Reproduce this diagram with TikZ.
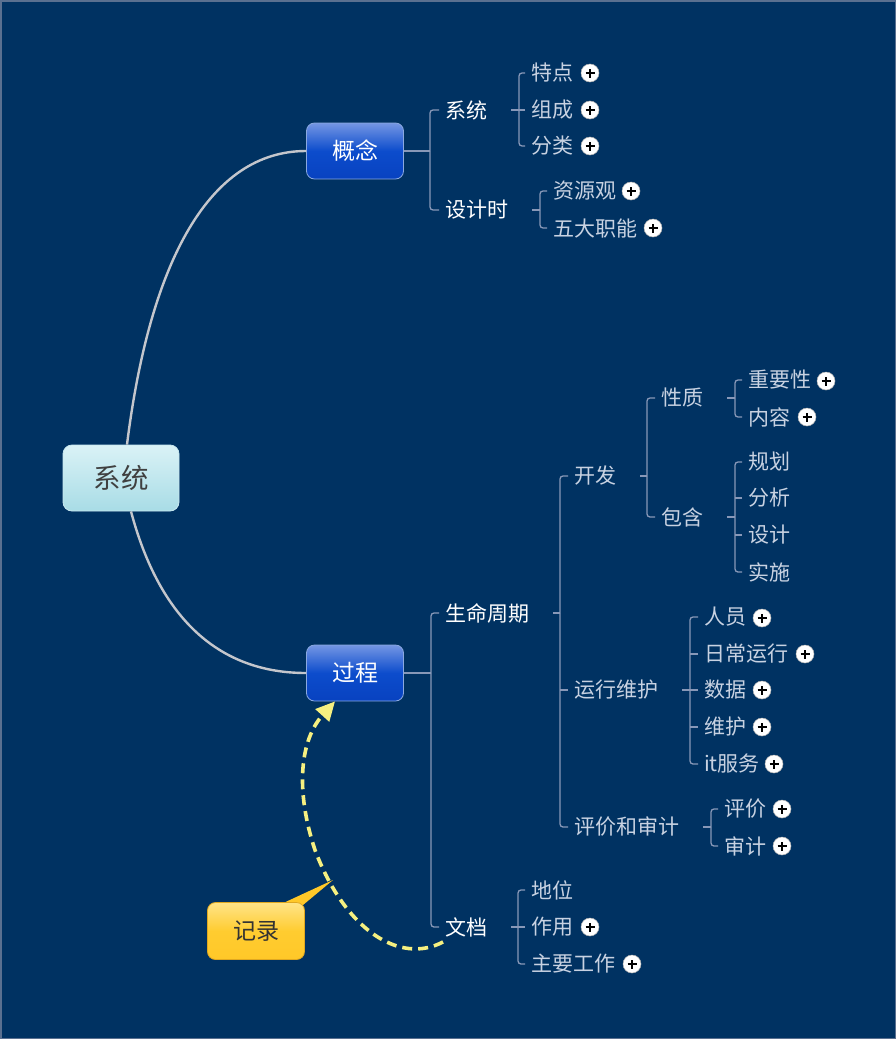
\documentclass[tikz,border=0pt]{standalone}
\usepackage{fontspec}
\setmainfont{Noto Sans CJK SC}
\usetikzlibrary{arrows.meta}
\definecolor{bg}{HTML}{003262}
\definecolor{frame}{HTML}{5A7090}
\definecolor{curvec}{HTML}{C4C6CC}
\definecolor{brc}{HTML}{8898B8}
\definecolor{leafc}{HTML}{C8D2E2}
\definecolor{roottop}{HTML}{DAF2F6}
\definecolor{rootbot}{HTML}{A8DCE6}
\definecolor{rootline}{HTML}{C8E8F0}
\definecolor{bluetop}{HTML}{7496E4}
\definecolor{bluemid}{HTML}{0C4CCC}
\definecolor{bluebot}{HTML}{0842C0}
\definecolor{blueline}{HTML}{8AA8E0}
\definecolor{yeltop}{HTML}{FFE488}
\definecolor{yelmid}{HTML}{FFCC30}
\definecolor{yelbot}{HTML}{FFC828}
\definecolor{yelline}{HTML}{E0A820}
\definecolor{dashc}{HTML}{F6F080}
\begin{document}
\begin{tikzpicture}[x=1pt,y=-1pt,
  rootbox/.style={draw=rootline, line width=0.8pt, rounded corners=9pt,
    top color=roottop, bottom color=rootbot, minimum width=116pt, minimum height=66pt,
    text=black!75, font=\fontsize{27.5}{30}\selectfont},
  mainbox/.style={draw=blueline, line width=0.8pt, rounded corners=8pt,
    top color=bluetop, bottom color=bluebot, middle color=bluemid,
    minimum width=97pt, minimum height=56pt, text=white, font=\fontsize{23}{26}\selectfont},
  notebox/.style={draw=yelline, line width=0.8pt, rounded corners=8pt,
    top color=yeltop, bottom color=yelbot, middle color=yelmid,
    minimum width=97pt, minimum height=57pt, text=black!80, font=\fontsize{23}{26}\selectfont},
  sub/.style={anchor=west, inner xsep=0pt, inner ysep=2pt, text=white, font=\fontsize{21}{24}\selectfont},
  leaf/.style={sub, text=leafc},
  br/.style={draw=brc, line width=1.3pt, rounded corners=3pt},
  curve/.style={draw=curvec, line width=2.4pt},
  plusicon/.style={circle, fill=white, draw=black!30, line width=0.5pt, minimum size=18pt, inner sep=0pt,
    path picture={
      \draw[black, line width=1.2pt]
        ([xshift=-4.5pt]path picture bounding box.center) -- ([xshift=4.5pt]path picture bounding box.center)
        ([yshift=-4.5pt]path picture bounding box.center) -- ([yshift=4.5pt]path picture bounding box.center);}},
  dasharrow/.style={draw=dashc, line width=3.6pt, dash pattern=on 10pt off 6pt,
    -{Triangle[length=19pt,width=18pt,fill=dashc]}}
]
\useasboundingbox (0,0) rectangle (896,1039);
\fill[bg] (0,0) rectangle (896,1039);
\draw[frame, line width=1.5pt] (0.75,0.75) rectangle (895.25,1038.25);

% main nodes
\node[rootbox] (root) at (121,478) {系统};
\node[mainbox] (gn) at (355,151) {概念};
\node[mainbox] (gc) at (355,673) {过程};

% curves from root
\draw[curve] ([xshift=6pt]root.north) .. controls (150,260) and (210,151) .. (gn.west);
\draw[curve] ([xshift=10pt]root.south) .. controls (160,620) and (220,673) .. (gc.west);

% level 1
\node[sub] (xt) at (445,110) {系统};
\node[sub] (sjs) at (445,210) {设计时};
\node[sub] (smzq) at (445,613) {生命周期};
\node[sub] (wd) at (445,927) {文档};

% leaves under 概念
\node[leaf] (td) at (531,73) {特点};
\node[leaf] (zc) at (531,110) {组成};
\node[leaf] (fl) at (531,146) {分类};
\node[leaf] (zyg) at (553,191) {资源观};
\node[leaf] (wdzn) at (553,228) {五大职能};

% 生命周期
\node[leaf] (kf) at (574,476) {开发};
\node[leaf] (yxwh) at (574,690) {运行维护};
\node[leaf] (pjsj) at (574,827) {评价和审计};
\node[leaf] (xz) at (661,398) {性质};
\node[leaf] (bh) at (661,517) {包含};
\node[leaf] (zyx) at (748,380) {重要性};
\node[leaf] (nr) at (748,417) {内容};
\node[leaf] (gh) at (748,462) {规划};
\node[leaf] (fx) at (748,498) {分析};
\node[leaf] (sj) at (748,535) {设计};
\node[leaf] (ss) at (748,572) {实施};
\node[leaf] (ry) at (704,617) {人员};
\node[leaf] (rcyx) at (704,654) {日常运行};
\node[leaf] (sjv) at (704,690) {数据};
\node[leaf] (wh) at (704,727) {维护};
\node[leaf] (its) at (704,764) {it服务};
\node[leaf] (pj) at (724,809) {评价};
\node[leaf] (sjt) at (724,846) {审计};

% 文档
\node[leaf] (dw) at (531,890) {地位};
\node[leaf] (zy) at (531,927) {作用};
\node[leaf] (zygz) at (531,964) {主要工作};

% brackets
\coordinate (b1) at (430,151);
\draw[br] (gn.east) -- (b1);
\draw[br] ([xshift=-6pt]xt.west) -| (b1);
\draw[br] ([xshift=-6pt]sjs.west) -| (b1);

\coordinate (b2) at (519,110);
\draw[br] ([xshift=24pt]xt.east) -- (b2);
\draw[br] ([xshift=-6pt]td.west) -| (b2);
\draw[br] ([xshift=-6pt]fl.west) -| (b2);
\draw[br] ([xshift=-6pt]zc.west) -- (zc.west -| b2);

\coordinate (b3) at (540,210);
\draw[br] ([xshift=24pt]sjs.east) -- (b3);
\draw[br] ([xshift=-6pt]zyg.west) -| (b3);
\draw[br] ([xshift=-6pt]wdzn.west) -| (b3);

\coordinate (b4) at (431,673);
\draw[br] (gc.east) -- (b4);
\draw[br] ([xshift=-6pt]smzq.west) -| (b4);
\draw[br] ([xshift=-6pt]wd.west) -| (b4);

\coordinate (b5) at (560,613);
\draw[br] ([xshift=24pt]smzq.east) -- (b5);
\draw[br] ([xshift=-6pt]kf.west) -| (b5);
\draw[br] ([xshift=-6pt]pjsj.west) -| (b5);
\draw[br] ([xshift=-6pt]yxwh.west) -- (yxwh.west -| b5);

\coordinate (b6) at (647,476);
\draw[br] ([xshift=24pt]kf.east) -- (b6);
\draw[br] ([xshift=-6pt]xz.west) -| (b6);
\draw[br] ([xshift=-6pt]bh.west) -| (b6);

\coordinate (b7) at (735,398);
\draw[br] ([xshift=24pt]xz.east) -- (b7);
\draw[br] ([xshift=-6pt]zyx.west) -| (b7);
\draw[br] ([xshift=-6pt]nr.west) -| (b7);

\coordinate (b8) at (735,517);
\draw[br] ([xshift=24pt]bh.east) -- (b8);
\draw[br] ([xshift=-6pt]gh.west) -| (b8);
\draw[br] ([xshift=-6pt]ss.west) -| (b8);
\draw[br] ([xshift=-6pt]fx.west) -- (fx.west -| b8);
\draw[br] ([xshift=-6pt]sj.west) -- (sj.west -| b8);

\coordinate (b9) at (690,690);
\draw[br] ([xshift=24pt]yxwh.east) -- (b9);
\draw[br] ([xshift=-6pt]ry.west) -| (b9);
\draw[br] ([xshift=-6pt]its.west) -| (b9);
\draw[br] ([xshift=-6pt]rcyx.west) -- (rcyx.west -| b9);
\draw[br] ([xshift=-6pt]sjv.west) -- (sjv.west -| b9);
\draw[br] ([xshift=-6pt]wh.west) -- (wh.west -| b9);

\coordinate (b10) at (711,827);
\draw[br] ([xshift=24pt]pjsj.east) -- (b10);
\draw[br] ([xshift=-6pt]pj.west) -| (b10);
\draw[br] ([xshift=-6pt]sjt.west) -| (b10);

\coordinate (b11) at (518,927);
\draw[br] ([xshift=24pt]wd.east) -- (b11);
\draw[br] ([xshift=-6pt]dw.west) -| (b11);
\draw[br] ([xshift=-6pt]zygz.west) -| (b11);
\draw[br] ([xshift=-6pt]zy.west) -- (zy.west -| b11);

% plus icons
\node[plusicon] (p1) at (590,73) {};
\node[plusicon] (p2) at (590,110) {};
\node[plusicon] (p3) at (590,146) {};
\node[plusicon] (p4) at (631,191) {};
\node[plusicon] (p5) at (653,228) {};
\node[plusicon] (p6) at (826,381) {};
\node[plusicon] (p7) at (807,417) {};
\node[plusicon] (p8) at (762,618) {};
\node[plusicon] (p9) at (805,654) {};
\node[plusicon] (p10) at (762,690) {};
\node[plusicon] (p11) at (762,727) {};
\node[plusicon] (p12) at (774,764) {};
\node[plusicon] (p13) at (782,809) {};
\node[plusicon] (p14) at (782,846) {};
\node[plusicon] (p15) at (590,927) {};
\node[plusicon] (p16) at (632,964) {};

% note callout
\coordinate (tip) at (333,880);
\fill[yelbot] (279,905) -- (tip) -- (303,905) -- cycle;
\node[notebox] (jl) at (256,931) {记录};

% dashed relation
\draw[dasharrow] ([xshift=-2pt,yshift=-3pt]wd.south west) .. controls (400,965) and (345,930) .. (315,850)
  .. controls (295,790) and (300,740) .. ([xshift=-20pt]gc.south);
\end{tikzpicture}
\end{document}
